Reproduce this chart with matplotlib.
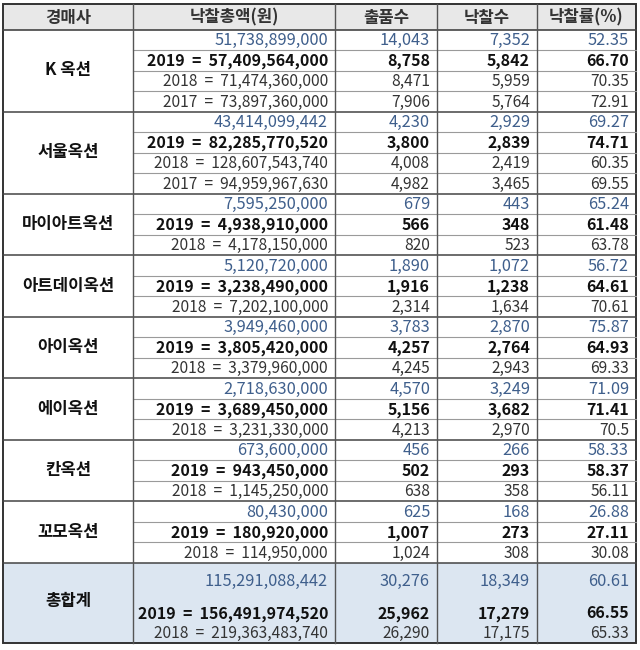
import matplotlib
matplotlib.use('Agg')
import matplotlib.pyplot as plt
from matplotlib.patches import Rectangle

plt.rcParams['font.family'] = ['Noto Sans CJK KR', 'DejaVu Sans']

headers = ['경매사', '낙찰총액(원)', '출품수', '낙찰수', '낙찰률(%)']
companies = ['K 옥션', '서울옥션', '마이아트옥션', '아트데이옥션',
             '아이옥션', '에이옥션', '칸옥션', '꼬모옥션']

# current (blue) row
amount_now = [51738899000, 43414099442, 7595250000, 5120720000,
              3949460000, 2718630000, 673600000, 80430000]
lots_now = [14043, 4230, 679, 1890, 3783, 4570, 456, 625]
sold_now = [7352, 2929, 443, 1072, 2870, 3249, 266, 168]
rate_now = ['52.35', '69.27', '65.24', '56.72', '75.87', '71.09', '58.33', '26.88']

amount_2019 = [57409564000, 82285770520, 4938910000, 3238490000,
               3805420000, 3689450000, 943450000, 180920000]
lots_2019 = [8758, 3800, 566, 1916, 4257, 5156, 502, 1007]
sold_2019 = [5842, 2839, 348, 1238, 2764, 3682, 293, 273]
rate_2019 = ['66.70', '74.71', '61.48', '64.61', '64.93', '71.41', '58.37', '27.11']

amount_2018 = [71474360000, 128607543740, 4178150000, 7202100000,
               3379960000, 3231330000, 1145250000, 114950000]
lots_2018 = [8471, 4008, 820, 2314, 4245, 4213, 638, 1024]
sold_2018 = [5959, 2419, 523, 1634, 2943, 2970, 358, 308]
rate_2018 = ['70.35', '60.35', '63.78', '70.61', '69.33', '70.5', '56.11', '30.08']

# only the first two houses have 2017 figures
amount_2017 = [73897360000, 94959967630]
lots_2017 = [7906, 4982]
sold_2017 = [5764, 3465]
rate_2017 = ['72.91', '69.55']

total_label = '총합계'
total_amount = [115291088442, 156491974520, 219363483740]
total_lots = [30276, 25962, 26290]
total_sold = [18349, 17279, 17175]
total_rate = ['60.61', '66.55', '65.33']

BLUE = '#3f5f8c'
BOLD = '#111111'
NORM = '#333333'

col_x = [3, 133, 335, 437, 537, 636]
top, head_h, row_h = 4, 25.5, 20.5
pad = 7

fig = plt.figure(figsize=(6.4, 6.5), dpi=100)
ax = fig.add_axes([0, 0, 1, 1])
ax.set_xlim(0, 640)
ax.set_ylim(650, 0)
ax.axis('off')


def row_cells(y, amount, lots, sold, rate, year, style):
    if style == 'blue':
        kw = dict(color=BLUE, fontsize=11.8, fontweight='medium')
        amt = f'{amount:,}'
    elif style == 'bold':
        kw = dict(color=BOLD, fontsize=11.5, fontweight='bold')
        amt = f'{year}  =  {amount:,}'
    else:
        kw = dict(color=NORM, fontsize=11.2)
        amt = f'{year}  =  {amount:,}'
    vals = [amt, f'{lots:,}', f'{sold:,}', rate]
    for i, v in enumerate(vals):
        ax.text(col_x[i + 2] - pad, y, v, ha='right', va='center', **kw)


# header
ax.add_patch(Rectangle((col_x[0], top), col_x[-1] - col_x[0], head_h,
                       facecolor='#e8e8e8', edgecolor='none'))
for i, h in enumerate(headers):
    ax.text((col_x[i] + col_x[i + 1]) / 2, top + head_h / 2 + 1, h,
            ha='center', va='center', fontsize=12, fontweight='bold', color='#333333')

y = top + head_h
ax.plot([col_x[0], col_x[-1]], [y, y], color='#444444', lw=1.2)
for g, name in enumerate(companies):
    rows = [('blue', amount_now[g], lots_now[g], sold_now[g], rate_now[g], None),
            ('bold', amount_2019[g], lots_2019[g], sold_2019[g], rate_2019[g], 2019),
            ('norm', amount_2018[g], lots_2018[g], sold_2018[g], rate_2018[g], 2018)]
    if g < len(amount_2017):
        rows.append(('norm', amount_2017[g], lots_2017[g], sold_2017[g], rate_2017[g], 2017))
    y0 = y
    for k, (st, a, l, s, r, yr) in enumerate(rows):
        row_cells(y + row_h / 2 + 1, a, l, s, r, yr, st)
        y += row_h
        if k < len(rows) - 1:
            ax.plot([col_x[1], col_x[-1]], [y, y], color='#9a9a9a', lw=0.8)
    ax.text((col_x[0] + col_x[1]) / 2, (y0 + y) / 2, name, ha='center', va='center',
            fontsize=12, fontweight='bold', color=BOLD)
    ax.plot([col_x[0], col_x[-1]], [y, y], color='#444444', lw=1.1)

# totals block
bottom = 643
ax.add_patch(Rectangle((col_x[0], y), col_x[-1] - col_x[0], bottom - y,
                       facecolor='#dce6f1', edgecolor='none', zorder=0))
ty = [y + 19, y + 51, y + 71]
styles = ['blue', 'bold', 'norm']
years = [None, 2019, 2018]
for k in range(3):
    row_cells(ty[k], total_amount[k], total_lots[k], total_sold[k], total_rate[k],
              years[k], styles[k])
ax.text((col_x[0] + col_x[1]) / 2, (y + bottom) / 2 - 2, total_label, ha='center',
        va='center', fontsize=12, fontweight='bold', color=BOLD)

# vertical lines and frame
for x in col_x[1:-1]:
    ax.plot([x, x], [top, bottom], color='#555555', lw=1.0)
ax.add_patch(Rectangle((col_x[0], top), col_x[-1] - col_x[0], bottom - top,
                       facecolor='none', edgecolor='#333333', lw=1.4))

fig.savefig('out.png', dpi=100)
